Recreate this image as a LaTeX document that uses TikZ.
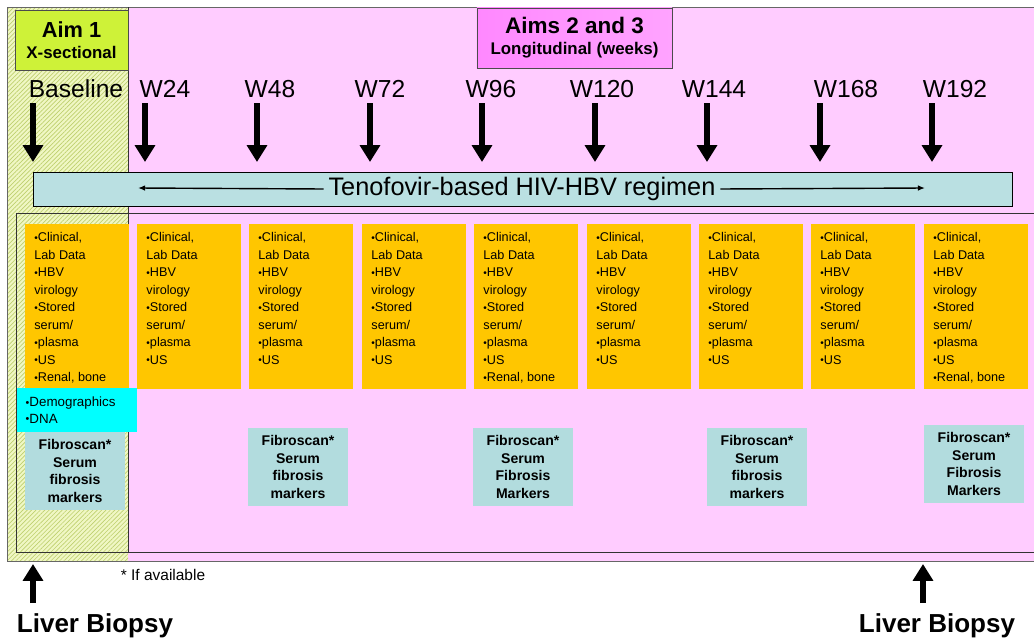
\documentclass[tikz,border=0pt]{standalone}
\usepackage{fontspec}
\setmainfont{Liberation Sans}
\usetikzlibrary{arrows.meta,patterns.meta}
\definecolor{pinkbg}{RGB}{255,204,255}
\definecolor{hatchbg}{RGB}{240,247,196}
\definecolor{hatchln}{RGB}{190,208,110}
\definecolor{aimgreen}{RGB}{206,242,56}
\definecolor{aimpink}{RGB}{255,136,255}
\definecolor{regblue}{RGB}{186,224,226}
\definecolor{fibblue}{RGB}{178,220,222}
\definecolor{orangebox}{RGB}{255,198,0}
\definecolor{cyanbox}{RGB}{0,255,255}
\newcommand{\bul}{\raisebox{.12ex}{\scalebox{.8}{•}}}
\newcommand{\olist}[1]{\parbox[t][105pt][t]{61pt}{\raggedright #1}}
\tikzset{
  fat/.style={line width=4pt,-{Triangle[width=14pt,length=12pt]}},
  thinarr/.style={line width=1pt,-{Latex[length=5pt,width=4pt]}},
  tp/.style={anchor=base,font=\fontsize{17.5}{20}\selectfont},
  aimbox/.style={draw=black!70,align=center,minimum height=42.7pt,inner sep=2pt},
  obox/.style={fill=orangebox,anchor=north west,inner xsep=6.5pt,inner ysep=6pt,font=\fontsize{9}{12.45}\selectfont},
  fbox/.style={fill=fibblue,align=center,minimum width=71pt,minimum height=55pt,inner sep=3pt,font=\bfseries\fontsize{10}{12.4}\selectfont},
  biopsy/.style={anchor=base,font=\bfseries\fontsize{18.5}{20}\selectfont}
}
\begin{document}
\begin{tikzpicture}[x=0.025cm,y=-0.025cm]
\useasboundingbox (0,0) rectangle (1034,638);
% background regions
\fill[pinkbg] (128,7) rectangle (1034,561);
\fill[hatchbg] (7,7) rectangle (128,561);
\fill[pattern={Lines[angle=45,distance=2.2pt,line width=.5pt]},pattern color=hatchln] (7,7) rectangle (128,561);
\draw[black!60] (1034,7) -- (7,7) -- (7,561) -- (1034,561);
\draw[black!80] (1034,213) -- (16,213) -- (16,552) -- (1034,552);
\draw[black!80] (128,7) -- (128,552);

\node[aimbox,fill=aimgreen,minimum width=80.4pt] (aim1) at (71.5,40)
  {{\bfseries\fontsize{15.5}{17}\selectfont Aim 1}\\[3pt]{\bfseries\fontsize{12}{14}\selectfont X-sectional}};
\node[aimbox,left color=aimpink,right color=aimpink!60!pinkbg,minimum width=138.7pt] (aim23) at (574.5,38)
  {{\bfseries\fontsize{16}{18}\selectfont Aims 2 and 3}\\[3pt]{\bfseries\fontsize{12}{14}\selectfont Longitudinal (weeks)}};

\foreach \ax/\lx/\lab [count=\i] in {33/76/Baseline,145/165/W24,257/270/W48,370/380/W72,482/491/W96,595/602/W120,707/714/W144,820/846/W168,932/955/W192}
{
    \node[tp] (t\i) at (\lx,97) {\lab};
    \coordinate (a\i) at (\ax,103);
    \coordinate (b\i) at (\ax,162);
    \draw[fat] (a\i) -- (b\i);
}

\fill[regblue,draw=black] (33,172) rectangle (1012,206);
\node[font=\fontsize{18}{20}\selectfont] (reg) at (522,189) {Tenofovir-based HIV-HBV regimen};
\coordinate (regl) at (138,188);
\coordinate (regr) at (925,188);
\draw[thinarr] (reg.west) -- (regl);
\draw[thinarr] (reg.east) -- (regr);

\foreach \bx/\more [count=\i] in {25/{\\\bul Renal, bone},137/{},249/{},362/{},474/{\\\bul Renal, bone},587/{},699/{},811/{},924/{\\\bul Renal, bone}}
    \node[obox] (d\i) at (\bx,224) {\olist{\bul Clinical,\\Lab Data\\\bul HBV\\virology\\\bul Stored\\serum/\\\bul plasma\\\bul US\more}};

\node[fill=cyanbox,anchor=north west,text width=73pt,inner xsep=6pt,minimum height=31.3pt,align=left,font=\fontsize{9.5}{11.7}\selectfont] (demo) at (17,388)
  {\bul Demographics\\\bul DNA};

\foreach \fx/\fy/\ftxt [count=\i] in {75/471/{Fibroscan*\\Serum\\fibrosis\\markers},298/467/{Fibroscan*\\Serum\\fibrosis\\markers},523/467/{Fibroscan*\\Serum\\Fibrosis\\Markers},757/467/{Fibroscan*\\Serum\\fibrosis\\markers},974/464/{Fibroscan*\\Serum\\Fibrosis\\Markers}}
    \node[fbox] (f\i) at (\fx,\fy) {\ftxt};

\node[anchor=base,font=\fontsize{11}{13}\selectfont] (note) at (163,580) {* If available};

\node[biopsy] (lb1) at (95,632) {Liver Biopsy};
\node[biopsy] (lb2) at (937,632) {Liver Biopsy};
\coordinate (u1) at (33,603);
\coordinate (v1) at (33,564);
\coordinate (u2) at (923,603);
\coordinate (v2) at (923,564);
\draw[fat] (u1) -- (v1);
\draw[fat] (u2) -- (v2);
\end{tikzpicture}
\end{document}
